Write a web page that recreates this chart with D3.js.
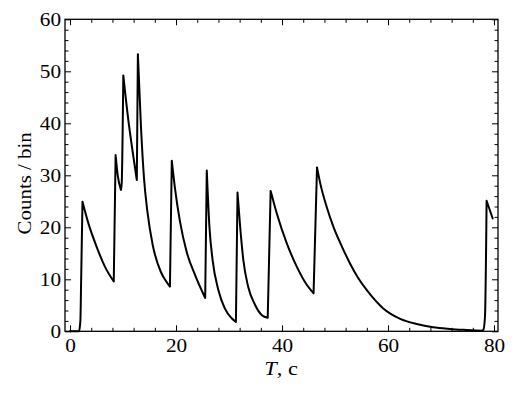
<!DOCTYPE html>
<html>
<head>
<meta charset="utf-8">
<script src="https://cdn.jsdelivr.net/npm/d3@7"></script>
<style>
  body { margin: 0; background: #fff; }
  svg { display: block; }
  text { font-family: "Liberation Serif", "Times New Roman", serif; }
</style>
</head>
<body>
<svg id="chart" width="527" height="394"></svg>
<script>
// time (s) and counts per bin
const timeValues = [
  0, 1.7, 1.95, 2.1, 2.35, 3.45, 5.0, 6.6, 8.25,
  8.6, 9.0, 9.6, 9.75, 10.05, 11.0, 11.95, 12.6, 12.8, 13.4,
  13.96, 14.6, 15.6, 17.1, 18.0, 18.85, 19.2, 19.8, 20.75, 22.0,
  23.6, 25.5, 25.8, 26.3, 26.9, 28.0, 29.2, 30.5, 31.3, 31.6,
  32.1, 32.7, 33.6, 34.9, 36.2, 37.3, 37.85, 39.0, 40.9, 42.8,
  44.7, 45.95, 46.6, 47.2, 48.4, 49.7, 51.3, 52.8, 54.4, 56.0,
  59.1, 62.3, 65.4, 68.5, 71.7, 74.8, 77.6, 78.0, 78.3, 78.6,
  79.75
];
const countValues = [
  0, 0, 2, 10, 24.9, 20.8, 16.3, 12.4, 9.6,
  33.9, 30.0, 27.2, 28.5, 49.2, 40.6, 33.6, 29.1, 53.3, 39.0,
  29.4, 23.0, 16.6, 11.5, 9.8, 8.6, 32.8, 27.5, 21.1, 15.3,
  10.8, 6.4, 30.9, 20.1, 13.7, 7.9, 4.4, 2.5, 1.8, 26.7,
  20.1, 13.7, 8.6, 5.1, 3.1, 2.6, 27.0, 22.7, 16.9, 12.4,
  8.9, 7.3, 31.5, 28.5, 24.0, 20.1, 16.3, 13.1, 10.2, 7.9,
  4.4, 2.4, 1.4, 0.77, 0.45, 0.25, 0.1, 0.3, 3.0, 25.1,
  21.7
];

const xMajorTicks = [0, 20, 40, 60, 80];
const yMajorTicks = [0, 10, 20, 30, 40, 50, 60];
const xMinorStep = 4;
const yMinorStep = 2;

const width = 527, height = 394;
const margin = { top: 19.3, right: 29, bottom: 62.7, left: 65 };
const innerW = width - margin.left - margin.right;
const innerH = height - margin.top - margin.bottom;

// the original font is wider than Times, so text gets stretched a bit
const stretch = 1.18;

const svg = d3.select("#chart");

const x = d3.scaleLinear().domain([-0.95, 80.75]).range([margin.left, margin.left + innerW]);
const y = d3.scaleLinear().domain([0, 60]).range([margin.top + innerH, margin.top]);

const xMinor = d3.range(0, 80 + 0.001, xMinorStep).filter(v => !xMajorTicks.includes(v));
const yMinor = d3.range(0, 60 + 0.001, yMinorStep).filter(v => !yMajorTicks.includes(v));

// Curve: split into monotone runs so peaks and troughs stay sharp
const data = timeValues.map((t, i) => ({ t: t, c: countValues[i] }));
const runs = [];
let run = [data[0]];
let dir = 0;
for (let i = 1; i < data.length; i++) {
  const d = Math.sign(data[i].c - data[i - 1].c);
  if (dir !== 0 && d !== 0 && d !== dir) {
    runs.push(run);
    run = [data[i - 1]];
  }
  if (d !== 0) dir = d;
  run.push(data[i]);
}
runs.push(run);

const line = d3.line()
  .x(d => x(d.t))
  .y(d => y(d.c))
  .curve(d3.curveMonotoneX);

svg.append("path")
  .attr("d", runs.map(r => line(r)).join(""))
  .attr("fill", "none")
  .attr("stroke", "#000")
  .attr("stroke-width", 2)
  .attr("stroke-linejoin", "round")
  .attr("stroke-linecap", "round");

// Axes with inward ticks on all four sides
const bottomY = margin.top + innerH;
const rightX = margin.left + innerW;

function styleAxis(g) {
  g.attr("font-family", null);
  g.select(".domain").remove();
  g.selectAll("line").attr("stroke", "#000").attr("stroke-width", 1);
  g.selectAll("text").attr("font-size", 18).attr("fill", "#000");
}

svg.append("g")
  .attr("transform", `translate(0, ${bottomY})`)
  .call(d3.axisBottom(x).tickValues(xMajorTicks).tickFormat(d3.format("d")).tickSizeInner(-6).tickPadding(8))
  .call(styleAxis)
  .selectAll("text")
  .attr("transform", `scale(${stretch}, 1)`);
svg.append("g")
  .attr("transform", `translate(0, ${bottomY})`)
  .call(d3.axisBottom(x).tickValues(xMinor).tickFormat("").tickSizeInner(-3.5))
  .call(styleAxis);
svg.append("g")
  .attr("transform", `translate(0, ${margin.top})`)
  .call(d3.axisTop(x).tickValues(xMajorTicks).tickFormat("").tickSizeInner(-6))
  .call(styleAxis);
svg.append("g")
  .attr("transform", `translate(0, ${margin.top})`)
  .call(d3.axisTop(x).tickValues(xMinor).tickFormat("").tickSizeInner(-3.5))
  .call(styleAxis);

svg.append("g")
  .attr("transform", `translate(${margin.left}, 0)`)
  .call(d3.axisLeft(y).tickValues(yMajorTicks).tickFormat(d3.format("d")).tickSizeInner(-6))
  .call(styleAxis)
  .selectAll("text")
  .attr("x", 0)
  .attr("transform", `translate(-4, 0) scale(${stretch}, 1)`);
svg.append("g")
  .attr("transform", `translate(${margin.left}, 0)`)
  .call(d3.axisLeft(y).tickValues(yMinor).tickFormat("").tickSizeInner(-3.5))
  .call(styleAxis);
svg.append("g")
  .attr("transform", `translate(${rightX}, 0)`)
  .call(d3.axisRight(y).tickValues(yMajorTicks).tickFormat("").tickSizeInner(-6))
  .call(styleAxis);
svg.append("g")
  .attr("transform", `translate(${rightX}, 0)`)
  .call(d3.axisRight(y).tickValues(yMinor).tickFormat("").tickSizeInner(-3.5))
  .call(styleAxis);

// Frame
svg.append("rect")
  .attr("x", margin.left)
  .attr("y", margin.top)
  .attr("width", innerW)
  .attr("height", innerH)
  .attr("fill", "none")
  .attr("stroke", "#000")
  .attr("stroke-width", 1.3);

// Axis labels
const xLabel = svg.append("text")
  .attr("transform", `translate(${x(40) - 1}, 375) scale(1.25, 1)`)
  .attr("text-anchor", "middle")
  .attr("font-size", 18);
xLabel.append("tspan").attr("font-style", "italic").text("T");
xLabel.append("tspan").text(", c");

svg.append("text")
  .attr("transform", `translate(31, ${y(30) + 8}) rotate(-90) scale(1.1, 1)`)
  .attr("text-anchor", "middle")
  .attr("font-size", 19)
  .text("Counts / bin");
</script>
</body>
</html>
